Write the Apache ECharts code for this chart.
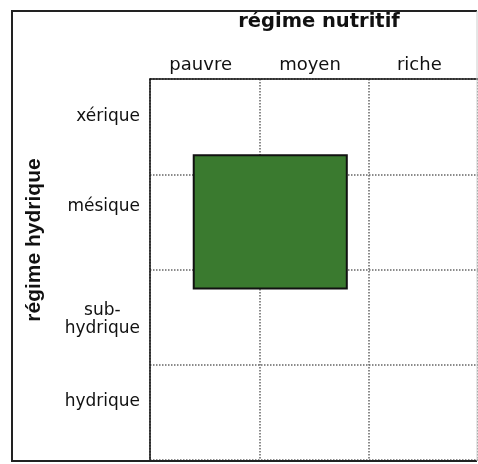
<!DOCTYPE html>
<html><head><meta charset="utf-8">
<script src="https://cdn.jsdelivr.net/npm/echarts@6/dist/echarts.min.js"></script>
<style>html,body{margin:0;padding:0;background:#fff}#c{width:478px;height:464px}</style>
</head><body><div id="c"></div>
<script>
var nutritif = ['pauvre', 'moyen', 'riche'];
var hydrique = ['xérique', 'mésique', 'sub-\nhydrique', 'hydrique'];
var xTitle = 'régime nutritif';
var yTitle = 'régime hydrique';
// extent of the green box, in cell units (columns from left, rows from top)
var boxX = [0.4, 1.8];
var boxY = [0.8, 2.2];

var font = '"DejaVu Sans", sans-serif';
// per-label vertical nudges (styling only)
var yRich = {
  s0: {padding: [0, 0, 20, 0]},
  s1: {padding: [0, 0, 30, 0]},
  s2a: {padding: [10, 0, 0, 0], align: 'center'},
  s2b: {align: 'center'},
  s3: {padding: [0, 0, 22, 0]}
};
function yFmt(value, index) {
  var lines = value.split('\n');
  if (lines.length > 1) {
    return lines.map(function (l, j) { return '{s' + index + (j === 0 ? 'a' : 'b') + '|' + l + '}'; }).join('\n');
  }
  return '{s' + index + '|' + value + '}';
}

var chart = echarts.init(document.getElementById('c'), null, {renderer: 'canvas'});
var split = {show: true, lineStyle: {type: 'dotted', color: '#666', width: 1.5}};
var axLine = {show: true, lineStyle: {color: '#111', width: 1.5}};
chart.setOption({
  animation: false,
  grid: {left: 150, top: 79, width: 329, height: 381, show: false},
  xAxis: [
    {type: 'category', data: nutritif, position: 'top', boundaryGap: true,
     axisLine: axLine, axisTick: {show: false}, splitLine: split,
     axisLabel: {color: '#111', fontSize: 18, fontFamily: font, margin: 5, interval: 0, padding: [0, 8, 0, 0]},
     name: xTitle, nameLocation: 'middle', nameGap: 47,
     nameTextStyle: {color: '#111', fontSize: 19.5, fontWeight: 'bold', fontFamily: font, padding: [0, 0, 0, 10]}},
    {type: 'value', min: 0, max: 3, show: false}
  ],
  yAxis: [
    {type: 'category', inverse: true, boundaryGap: true, data: hydrique,
     axisLine: axLine, axisTick: {show: false}, splitLine: split,
     axisLabel: {color: '#111', fontSize: 17, fontFamily: font, margin: 10, lineHeight: 23, align: 'right',
       interval: 0, formatter: yFmt, rich: yRich}},
    {type: 'value', min: 0, max: 4, inverse: true, show: false}
  ],
  series: [{
    type: 'custom', xAxisIndex: 1, yAxisIndex: 1,
    data: [[boxX[0], boxY[0], boxX[1], boxY[1]]],
    renderItem: function (params, api) {
      var p0 = api.coord([api.value(0), api.value(1)]);
      var p1 = api.coord([api.value(2), api.value(3)]);
      return {type: 'rect', shape: {x: p0[0], y: p0[1], width: p1[0] - p0[0], height: p1[1] - p0[1]},
        style: {fill: '#3a7a2f', stroke: '#111', lineWidth: 2}};
    },
    z: 5
  }],
  graphic: [
    {type: 'text', x: 34, y: 240, rotation: Math.PI / 2,
     style: {text: yTitle, fill: '#111', font: 'bold 21px "Liberation Sans", Arial, sans-serif', align: 'center', verticalAlign: 'middle'}},
    {type: 'polyline', shape: {points: [[477, 11], [12, 11], [12, 461], [477, 461]]},
     style: {stroke: '#222', lineWidth: 2, fill: null}, z: 10},
    {type: 'line', shape: {x1: 477, y1: 11, x2: 477, y2: 461}, style: {stroke: '#ccc', lineWidth: 1}, z: 10}
  ]
});
</script></body></html>
